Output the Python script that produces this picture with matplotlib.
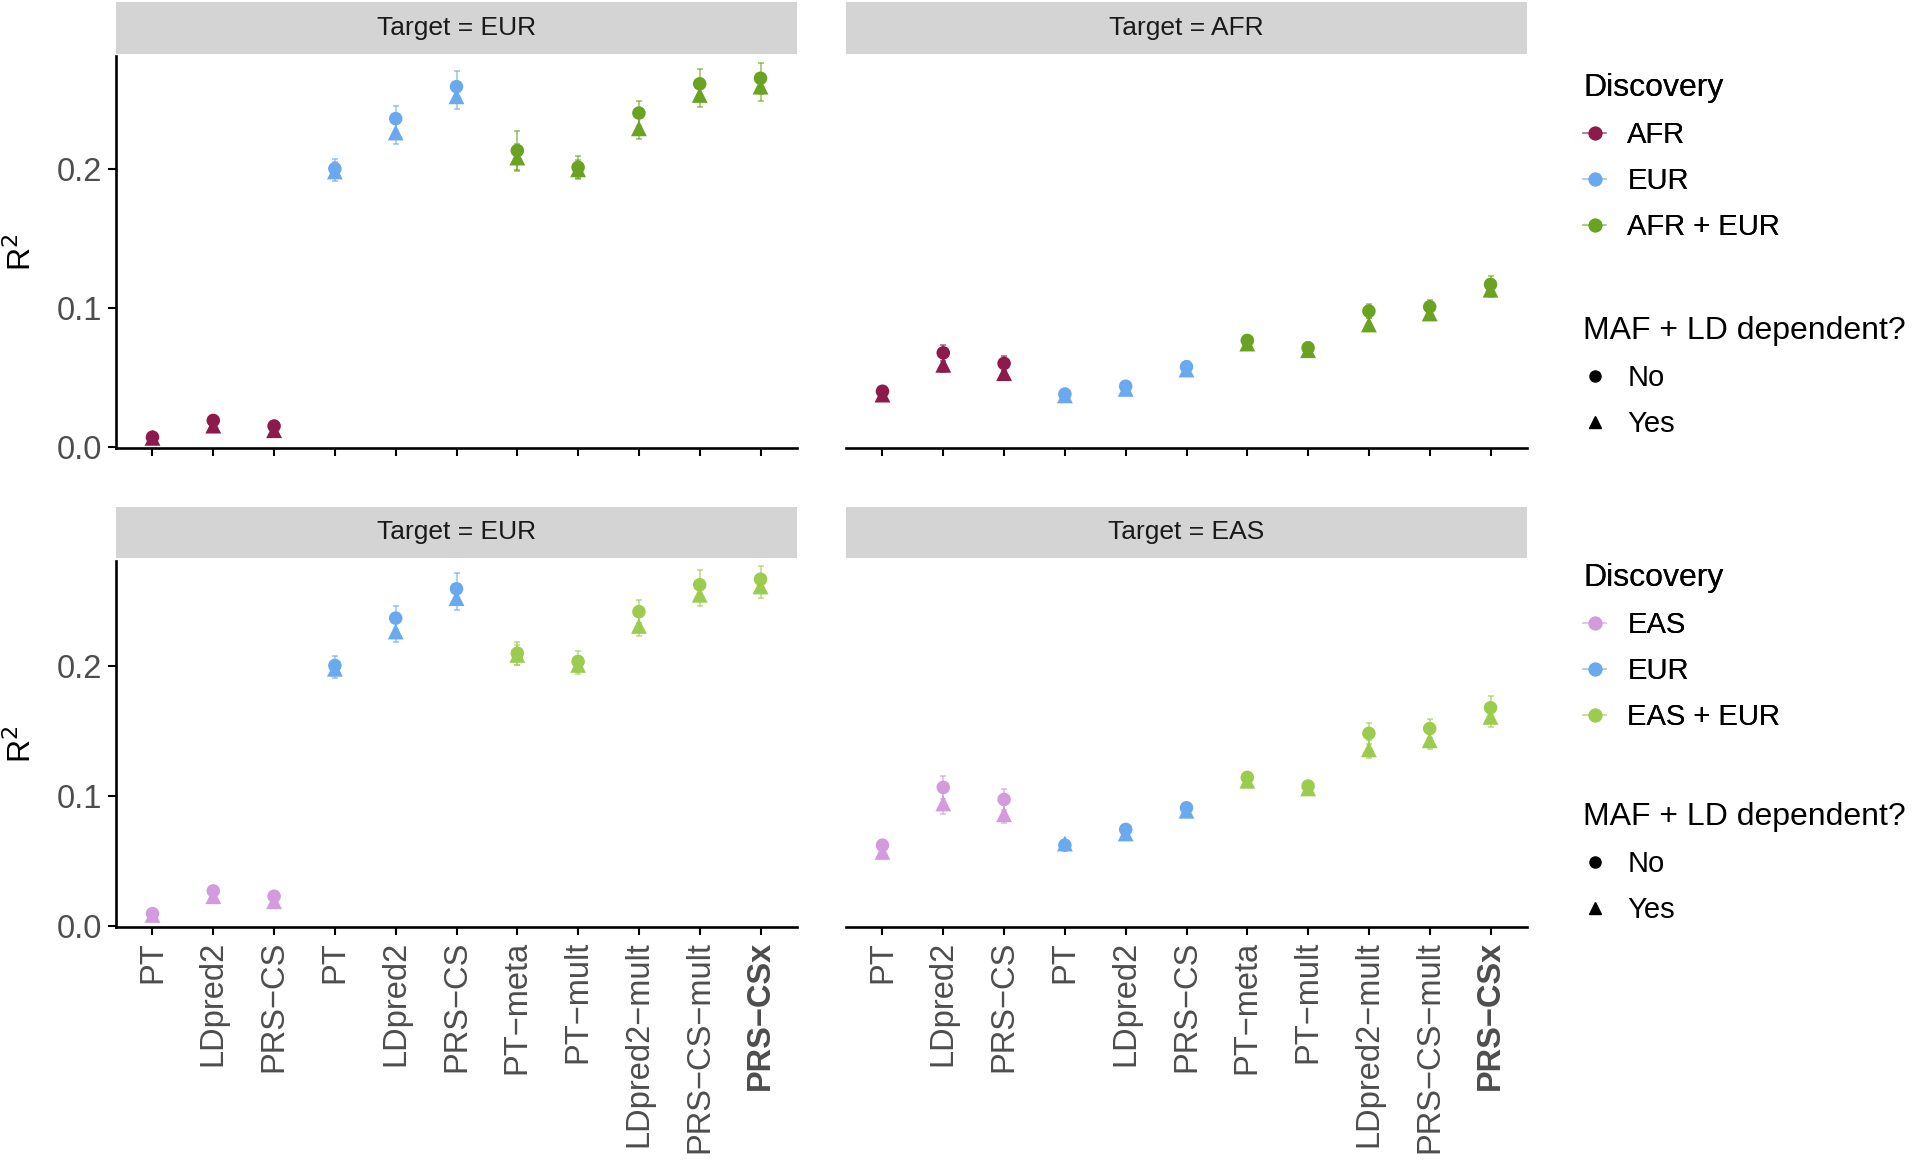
import matplotlib
matplotlib.use("Agg")
import matplotlib.pyplot as plt
from matplotlib.lines import Line2D
from matplotlib.colors import to_rgba
import numpy as np

plt.rcParams['font.family'] = ['Liberation Sans', 'DejaVu Sans']             # fuente parecida a Helvetica

# Datos: metodos en el eje x y grupo de descubrimiento de cada uno
metodos = ["PT", "LDpred2", "PRS−CS", "PT", "LDpred2", "PRS−CS", "PT−meta",
           "PT−mult", "LDpred2−mult", "PRS−CS−mult", "PRS−CSx"]
grupo = [0, 0, 0, 1, 1, 1, 2, 2, 2, 2, 2]                                    # 0 = AFR/EAS, 1 = EUR, 2 = mezcla

# Fila de arriba: descubrimiento AFR / EUR / AFR + EUR
eur_afr_no = [0.007, 0.019, 0.015, 0.200, 0.236, 0.259, 0.213, 0.201, 0.240, 0.261, 0.265]
eur_afr_si = [0.0065, 0.0153, 0.012, 0.198, 0.226, 0.252, 0.208, 0.1995, 0.229, 0.253, 0.259]
eur_afr_err_no = [0.002, 0.002, 0.002, 0.007, 0.009, 0.011, 0.014, 0.008, 0.009, 0.011, 0.011]
eur_afr_err_si = [0.002, 0.002, 0.002, 0.007, 0.008, 0.009, 0.010, 0.007, 0.008, 0.009, 0.010]

afr_no = [0.040, 0.0676, 0.060, 0.038, 0.0436, 0.0576, 0.0765, 0.0712, 0.0976, 0.1007, 0.1168]
afr_si = [0.0376, 0.059, 0.053, 0.037, 0.0417, 0.0556, 0.0743, 0.0695, 0.088, 0.0959, 0.113]
afr_err_no = [0.002, 0.006, 0.005, 0.003, 0.003, 0.004, 0.004, 0.004, 0.005, 0.005, 0.006]
afr_err_si = [0.002, 0.005, 0.004, 0.003, 0.003, 0.004, 0.004, 0.004, 0.005, 0.005, 0.005]

# Fila de abajo: descubrimiento EAS / EUR / EAS + EUR
eur_eas_no = [0.0095, 0.027, 0.0229, 0.2005, 0.237, 0.2596, 0.210, 0.2036, 0.242, 0.2627, 0.267]
eur_eas_si = [0.0085, 0.0229, 0.019, 0.198, 0.2267, 0.2524, 0.2087, 0.201, 0.231, 0.255, 0.2614]
eur_eas_err_no = [0.002, 0.002, 0.002, 0.007, 0.009, 0.012, 0.009, 0.008, 0.009, 0.011, 0.010]
eur_eas_err_si = [0.002, 0.002, 0.002, 0.007, 0.008, 0.009, 0.008, 0.007, 0.008, 0.009, 0.009]

eas_no = [0.0622, 0.1067, 0.0974, 0.0622, 0.0743, 0.091, 0.1144, 0.1077, 0.1483, 0.152, 0.168]
eas_si = [0.057, 0.0943, 0.086, 0.0635, 0.0712, 0.0887, 0.1118, 0.1059, 0.136, 0.143, 0.161]
eas_err_no = [0.004, 0.009, 0.008, 0.002, 0.004, 0.003, 0.004, 0.004, 0.008, 0.007, 0.009]
eas_err_si = [0.004, 0.008, 0.007, 0.002, 0.004, 0.003, 0.004, 0.004, 0.007, 0.007, 0.008]

grupos_arriba = ["AFR", "EUR", "AFR + EUR"]
grupos_abajo = ["EAS", "EUR", "EAS + EUR"]
colores_arriba = ["#8C1A4B", "#6AA9EE", "#6AA222"]
colores_abajo = ["#D49ADE", "#6AA9EE", "#9CCC4E"]

fig = plt.figure(figsize=(19.2, 11.6), dpi=100)

W, H = 1920, 1160
def caja(x0, y0, x1, y1):                                                    # pixeles -> fraccion de figura
    return [x0 / W, 1 - y1 / H, (x1 - x0) / W, (y1 - y0) / H]

def panel(rect, tira, titulo, r2_no, r2_si, err_no, err_si, colores, izquierda, abajo):
    ax = fig.add_axes(caja(*rect))
    x = np.arange(len(metodos))
    c = [colores[g] for g in grupo]
    for i in x:                                                              # barras de error claras
        ax.errorbar(i, r2_si[i], yerr=err_si[i], color=c[i], alpha=0.55, capsize=2.5,
                    lw=1.4, capthick=1.4, zorder=2)
        ax.errorbar(i, r2_no[i], yerr=err_no[i], color=c[i], alpha=0.55, capsize=2.5,
                    lw=1.4, capthick=1.4, zorder=2)
    ax.scatter(x, r2_si, marker='^', c=c, s=130, linewidths=0, zorder=3)
    ax.scatter(x, r2_no, marker='o', c=c, s=95, linewidths=0, zorder=3)
    ax.set_xlim(-0.6, len(metodos) - 0.4)
    ax.set_ylim(-0.0008, 0.281)
    ax.spines['top'].set_visible(False)
    ax.spines['right'].set_visible(False)
    ax.spines['bottom'].set_linewidth(1.9)
    ax.spines['left'].set_linewidth(1.9)
    ax.set_xticks(x)
    ax.tick_params(axis='both', length=6, width=1.5, labelsize=23.5, labelcolor='#4D4D4D', pad=4)
    if abajo:
        ax.set_xticklabels(metodos, rotation=90, va='top')
        ax.get_xticklabels()[-1].set_fontweight('bold')
    else:
        ax.set_xticklabels([])
    if izquierda:
        ax.set_yticks([0.0, 0.1, 0.2])
        ax.set_yticklabels(["0.0", "0.1", "0.2"])
    else:
        ax.spines['left'].set_visible(False)
        ax.set_yticks([])
    # tira gris con el titulo del panel
    st = fig.add_axes(caja(*tira))
    st.set_facecolor('#D4D4D4')
    st.set_xticks([]); st.set_yticks([])
    for s in st.spines.values():
        s.set_visible(False)
    st.text(0.5, 0.5, titulo, ha='center', va='center', fontsize=19, color='#1A1A1A')
    return ax

panel((116, 56, 797, 448), (116, 2, 797, 54), "Target = EUR", eur_afr_no, eur_afr_si,
      eur_afr_err_no, eur_afr_err_si, colores_arriba, True, False)
panel((846, 56, 1527, 448), (846, 2, 1527, 54), "Target = AFR", afr_no, afr_si,
      afr_err_no, afr_err_si, colores_arriba, False, False)
panel((116, 561, 797, 927), (116, 507, 797, 558), "Target = EUR", eur_eas_no, eur_eas_si,
      eur_eas_err_no, eur_eas_err_si, colores_abajo, True, True)
panel((846, 561, 1527, 927), (846, 507, 1527, 558), "Target = EAS", eas_no, eas_si,
      eas_err_no, eas_err_si, colores_abajo, False, True)

# etiquetas del eje y
fig.text(22 / W, 1 - 252 / H, "R$^2$", rotation=90, ha='center', va='center', fontsize=23)
fig.text(22 / W, 1 - 744 / H, "R$^2$", rotation=90, ha='center', va='center', fontsize=23)

def leyendas(nombres, colores, y_titulo1, y_titulo2):
    h1 = [Line2D([], [], color=to_rgba(c, 0.4), lw=1.2, marker='o', markersize=9,
                 markerfacecolor=c, markeredgecolor=c) for c in colores]
    l1 = fig.legend(handles=h1, labels=nombres, title="Discovery", loc='upper left',
                    bbox_to_anchor=(1583 / W, 1 - y_titulo1 / H), frameon=False, fontsize=21,
                    title_fontsize=23, alignment='left', borderpad=0, borderaxespad=0,
                    handlelength=0.8, handletextpad=0.72, labelspacing=0.62)
    h2 = [Line2D([], [], color='black', marker='o', linestyle='none', markersize=8),
          Line2D([], [], color='black', marker='^', linestyle='none', markersize=9)]
    fig.legend(handles=h2, labels=["No", "Yes"], title="MAF + LD dependent?", loc='upper left',
               bbox_to_anchor=(1583 / W, 1 - y_titulo2 / H), frameon=False, fontsize=21,
               title_fontsize=23, alignment='left', borderpad=0, borderaxespad=0,
               handlelength=0.8, handletextpad=0.72, labelspacing=0.62)
    fig.add_artist(l1)

leyendas(grupos_arriba, colores_arriba, 73, 316)
leyendas(grupos_abajo, colores_abajo, 563, 802)

fig.savefig("out.png", dpi=100, facecolor='white')
